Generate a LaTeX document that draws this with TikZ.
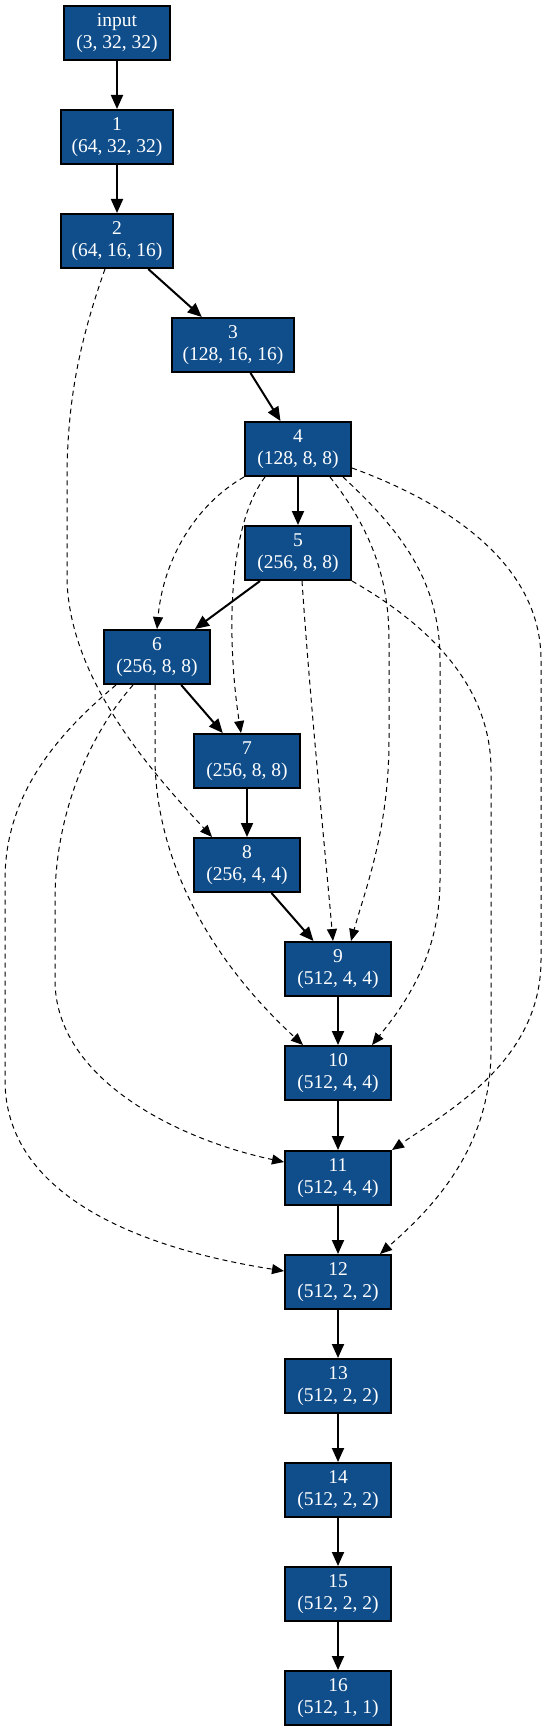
\documentclass[tikz,border=0pt]{standalone}
\usepackage{fontspec}
\setmainfont{Liberation Serif}
\usetikzlibrary{arrows.meta}
\definecolor{nodeblue}{HTML}{104E8B}
\tikzset{
  blk/.style={draw=black, line width=2pt, fill=nodeblue, text=white,
    minimum width=106pt, minimum height=54pt, inner xsep=11pt, inner ysep=3pt,
    align=center, font=\fontsize{19.5pt}{22.5pt}\selectfont},
  mainedge/.style={line width=2pt, -{Triangle[length=14pt,width=12pt]}},
  skipedge/.style={line width=1pt, dash pattern=on 5pt off 4pt,
    -{Triangle[length=12pt,width=10pt]}}
}
\begin{document}
\begin{tikzpicture}[x=1pt,y=-1pt]
\useasboundingbox (0,0) rectangle (547,1731);
\node[blk] (in)  at (117,33)   {input\\(3, 32, 32)};
\node[blk] (n1)  at (117,137)  {1\\(64, 32, 32)};
\node[blk] (n2)  at (117,241)  {2\\(64, 16, 16)};
\node[blk] (n3)  at (233,345)  {3\\(128, 16, 16)};
\node[blk] (n4)  at (298,449)  {4\\(128, 8, 8)};
\node[blk] (n5)  at (298,553)  {5\\(256, 8, 8)};
\node[blk] (n6)  at (157,657)  {6\\(256, 8, 8)};
\node[blk] (n7)  at (247,761)  {7\\(256, 8, 8)};
\node[blk] (n8)  at (247,865)  {8\\(256, 4, 4)};
\node[blk] (n9)  at (338,969)  {9\\(512, 4, 4)};
\node[blk] (n10) at (338,1073) {10\\(512, 4, 4)};
\node[blk] (n11) at (338,1178) {11\\(512, 4, 4)};
\node[blk] (n12) at (338,1282) {12\\(512, 2, 2)};
\node[blk] (n13) at (338,1386) {13\\(512, 2, 2)};
\node[blk] (n14) at (338,1490) {14\\(512, 2, 2)};
\node[blk] (n15) at (338,1594) {15\\(512, 2, 2)};
\node[blk] (n16) at (338,1698) {16\\(512, 1, 1)};
% main chain
\draw[mainedge] (in) -- (n1);
\draw[mainedge] (n1) -- (n2);
\draw[mainedge] (n2) -- (n3);
\draw[mainedge] (n3) -- (n4);
\draw[mainedge] (n4) -- (n5);
\draw[mainedge] (n5) -- (n6);
\draw[mainedge] (n6) -- (n7);
\draw[mainedge] (n7) -- (n8);
\draw[mainedge] (n8) -- (n9);
\draw[mainedge] (n9) -- (n10);
\draw[mainedge] (n10) -- (n11);
\draw[mainedge] (n11) -- (n12);
\draw[mainedge] (n12) -- (n13);
\draw[mainedge] (n13) -- (n14);
\draw[mainedge] (n14) -- (n15);
\draw[mainedge] (n15) -- (n16);
% skip connections
\draw[skipedge] ([xshift=-12pt]n2.south) .. controls (80,340) and (67,400) .. (67,480)
  -- (67,580) .. controls (70,680) and (150,770) .. ([xshift=-35pt]n8.north);
\draw[skipedge] (n4.south west) .. controls (195,505) and (163,560) .. (n6.north);
\draw[skipedge] ([xshift=-33pt]n4.south) .. controls (225,530) and (228,650) .. ([xshift=-6pt]n7.north);
\draw[skipedge] ([xshift=32pt]n4.south) .. controls (372,530) and (389,580) .. (389,640)
  -- (389,740) .. controls (389,830) and (365,890) .. ([xshift=13pt]n9.north);
\draw[skipedge] ([xshift=45pt]n4.south) .. controls (400,530) and (440,580) .. (440,660)
  -- (440,880) .. controls (440,960) and (400,1010) .. ([xshift=34pt]n10.north);
\draw[skipedge] ([yshift=-19pt]n4.east) .. controls (440,500) and (541,560) .. (541,660)
  -- (541,960) .. controls (541,1060) and (450,1110) .. (n11.north east);
\draw[skipedge] ([xshift=4pt]n5.south) .. controls (310,700) and (325,850) .. ([xshift=-5pt]n9.north);
\draw[skipedge] (n5.south east) .. controls (420,620) and (491,680) .. (491,770)
  -- (491,1050) .. controls (491,1150) and (430,1210) .. ([xshift=42pt]n12.north);
\draw[skipedge] ([xshift=-2pt]n6.south) -- (155,760) .. controls (156,850) and (200,950) .. ([xshift=-35pt]n10.north);
\draw[skipedge] ([xshift=-24pt]n6.south) .. controls (85,740) and (55,820) .. (55,900)
  -- (55,980) .. controls (55,1080) and (180,1140) .. ([yshift=16pt]n11.west);
\draw[skipedge] ([xshift=-41pt]n6.south) .. controls (50,740) and (5,800) .. (5,880)
  -- (5,1080) .. controls (5,1200) and (150,1250) .. ([yshift=11pt]n12.west);
\end{tikzpicture}
\end{document}
